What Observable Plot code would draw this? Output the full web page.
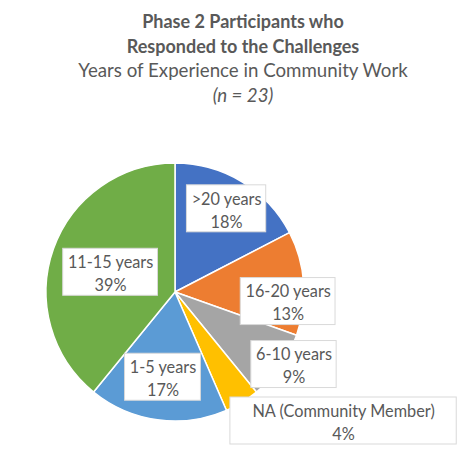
<!DOCTYPE html>
<html>
<head>
<meta charset="utf-8">
<script src="https://cdn.jsdelivr.net/npm/d3@7"></script>
<script src="https://cdn.jsdelivr.net/npm/@observablehq/plot@0.6"></script>
<style>
  html, body { margin: 0; padding: 0; background: #fff; }
  #header { width: 474px; height: 112px; box-sizing: border-box; padding-top: 9px; padding-left: 12px; text-align: center; color: #595959; font-family: Lato, "Open Sans", sans-serif; }
  #header .t { font-weight: bold; font-size: 18px; line-height: 24.5px; }
  #header .s { font-size: 18.7px; line-height: 24.5px; }
  #header .n { font-size: 18.7px; line-height: 24.5px; font-style: italic; }
</style>
</head>
<body>
<div id="header">
  <div class="t">Phase 2 Participants who</div>
  <div class="t">Responded to the Challenges</div>
  <div class="s">Years of Experience in Community Work</div>
  <div class="n">(n = 23)</div>
</div>
<div id="chart"></div>
<script>
// ---- data ----
const categories = [">20 years", "16-20 years", "6-10 years", "NA (Community Member)", "1-5 years", "11-15 years"];
const counts = [4, 3, 2, 1, 4, 9];
const percentLabels = ["18%", "13%", "9%", "4%", "17%", "39%"];
const colors = ["#4472C4", "#ED7D31", "#A5A5A5", "#FFC000", "#5B9BD5", "#70AD47"];

// ---- label layout (polar: angle in degrees clockwise from top, radius as fraction of pie radius, extra box width px) ----
const labelLayout = {
  ">20 years": [31.4, 0.76, 0],
  "16-20 years": [94.6, 0.876, 0],
  "6-10 years": [121.3, 1.075, 0],
  "NA (Community Member)": [127.4, 1.64, 34],
  "1-5 years": [188.4, 0.664, 0],
  "11-15 years": [287.3, 0.527, 0]
};

const data = categories.map((c, i) => ({category: c, count: counts[i], pct: percentLabels[i]}));
const pie = d3.pie().sort(null).value(d => d.count)(data);

const labels = data.map(d => {
  const [deg, r, extra] = labelLayout[d.category];
  const a = deg * Math.PI / 180;
  return {category: d.category, text: d.category + "\n" + d.pct, x: r * Math.sin(a), y: r * Math.cos(a), extra};
});

const FONT = "Lato";
const FS = 16.3;
const LH = 23;
const colorScale = Plot.scale({color: {type: "ordinal", domain: categories, range: colors}});

const canvas = document.createElement("canvas");
const ctx2d = canvas.getContext("2d");
ctx2d.font = `${FS}px ${FONT}`;

function slices(index, scales) {
  const g = d3.create("svg:g");
  const cx = scales.x(0), cy = scales.y(0);
  const R = scales.x(1) - scales.x(0);
  const arc = d3.arc().innerRadius(0).outerRadius(R);
  g.attr("transform", `translate(${cx},${cy})`);
  g.selectAll("path").data(pie).join("path")
    .attr("d", arc)
    .attr("fill", d => colorScale.apply(d.data.category))
    .attr("stroke", "#fff")
    .attr("stroke-width", 1.5)
    .attr("stroke-linejoin", "round");
  return g.node();
}

function boxes(index, scales) {
  const g = d3.create("svg:g");
  for (const l of labels) {
    const lines = l.text.split("\n");
    const w = d3.max(lines, s => ctx2d.measureText(s).width) + 9 + l.extra;
    const h = lines.length * LH + 1;
    g.append("rect")
      .attr("x", scales.x(l.x) - w / 2)
      .attr("y", scales.y(l.y) - h / 2)
      .attr("width", w)
      .attr("height", h)
      .attr("fill", "#fff")
      .attr("stroke", "#D9D9D9")
      .attr("stroke-width", 1);
  }
  return g.node();
}

const chart = Plot.plot({
  width: 474,
  height: 362,
  marginLeft: 46,
  marginRight: 170,
  marginTop: 51,
  marginBottom: 53,
  x: {domain: [-1, 1], axis: null},
  y: {domain: [-1, 1], axis: null},
  style: {background: "#fff", overflow: "visible"},
  marks: [
    slices,
    boxes,
    Plot.text(labels, {x: "x", y: "y", text: "text", fontSize: FS, fontFamily: FONT, fill: "#595959", lineHeight: LH / FS})
  ]
});
document.getElementById("chart").appendChild(chart);
</script>
</body>
</html>
